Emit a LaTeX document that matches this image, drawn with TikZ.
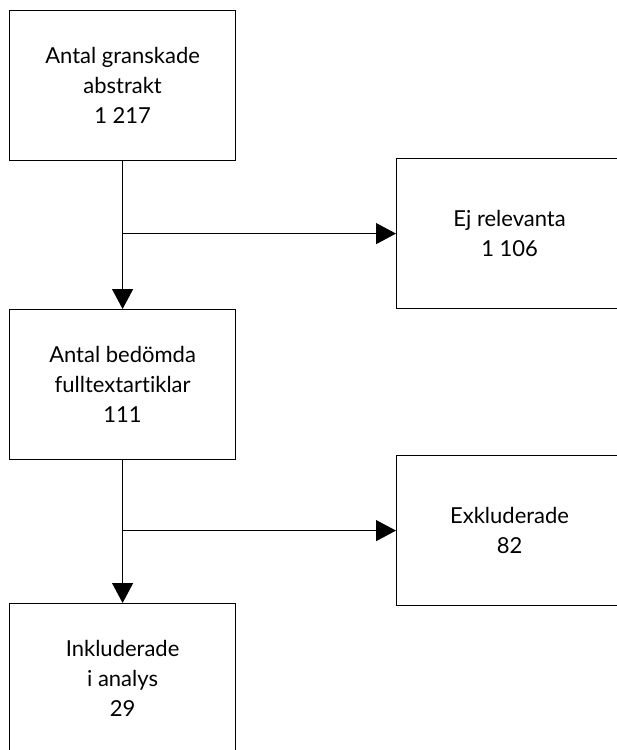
\documentclass[tikz,border=0pt]{standalone}
\usepackage{fontspec}
\setmainfont{Lato}[Ligatures={NoCommon,NoRequired,NoContextual,NoDiscretionary}]
\usetikzlibrary{arrows.meta}
\begin{document}
\begin{tikzpicture}[x=1pt,y=1pt,
  box/.style={draw=black, line width=1.2pt, minimum width=226pt, minimum height=150pt, inner sep=0pt, align=center, font=\fontsize{22}{30}\selectfont, anchor=north west},
  conn/.style={line width=1.2pt, -{Triangle[length=20pt,width=21pt]}}]
\useasboundingbox (0,0) rectangle (617,-750);
\clip (0,0) rectangle (617,-750);
\node[box] (b1) at (9,-10) {Antal granskade\\abstrakt\\1 217};
\node[box] (b2) at (396,-158) {Ej relevanta\\1 106};
\node[box] (b3) at (9,-309) {Antal bedömda\\fulltextartiklar\\111};
\node[box] (b4) at (396,-455) {Exkluderade\\82};
\node[box] (b5) at (9,-603) {Inkluderade\\i analys\\29};
\coordinate (j1) at (b1.south |- b2.west);
\coordinate (j2) at (b3.south |- b4.west);
\draw[conn] (b1.south) -- (b3.north);
\draw[conn] (j1) -- (b2.west);
\draw[conn] (b3.south) -- (b5.north);
\draw[conn] (j2) -- (b4.west);
\end{tikzpicture}
\end{document}
